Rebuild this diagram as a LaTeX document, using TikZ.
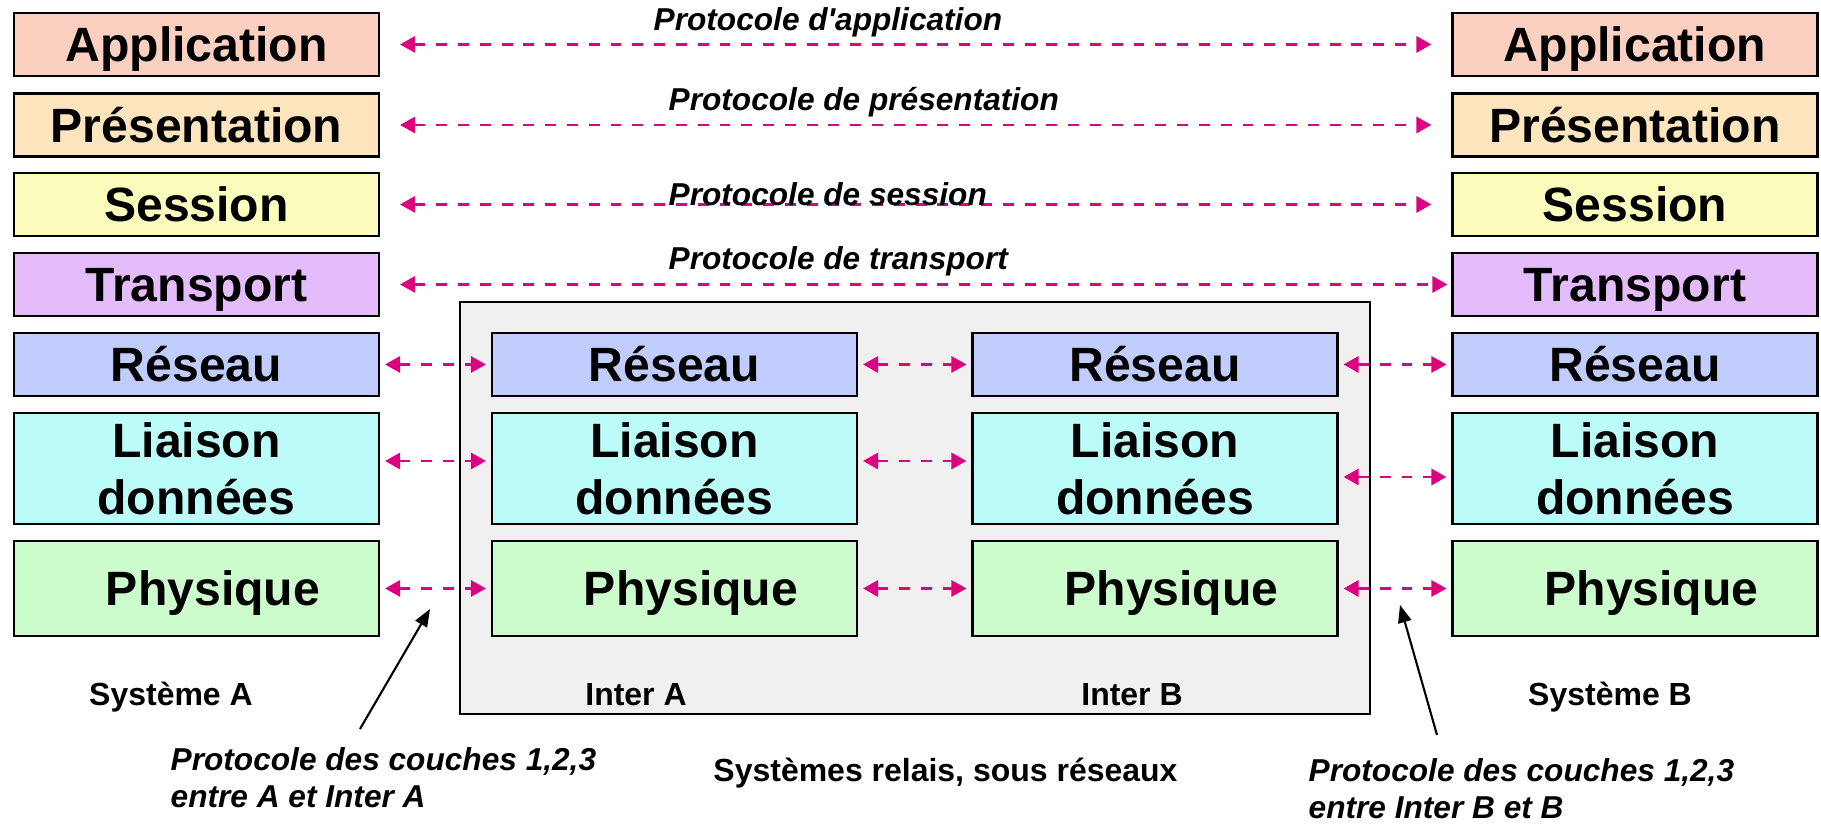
\documentclass[tikz,border=0pt]{standalone}
\usepackage{fontspec}
\setmainfont{Liberation Sans}[Ligatures=TeXOff]
\usepackage{tikz}
\usetikzlibrary{arrows.meta}
\definecolor{appli}{HTML}{FCD0C0}
\definecolor{presen}{HTML}{FCE4BC}
\definecolor{sessn}{HTML}{FCFCBC}
\definecolor{transp}{HTML}{E4BCFC}
\definecolor{reseau}{HTML}{C0CCFC}
\definecolor{liaisn}{HTML}{BCFCF8}
\definecolor{physq}{HTML}{CCFCCC}
\definecolor{relay}{HTML}{F0F0F0}
\definecolor{proto}{HTML}{DD0080}
\tikzset{
  layer/.style={draw=black, line width=0.6pt, minimum width=3.65cm,
    inner sep=0pt, align=center,
    font=\fontsize{13.7}{16.2}\selectfont\bfseries},
  onerow/.style={layer, minimum height=0.63cm, text height=9.8pt, text depth=0pt},
  proto/.style={draw=proto, line width=0.8pt, dash pattern=on 3.1pt off 3.1pt,
    {Triangle[length=4.3pt,width=4.6pt]}-{Triangle[length=4.3pt,width=4.6pt]}},
  ptr/.style={draw=black, line width=0.6pt, -{Triangle[length=5pt,width=3.8pt]}},
  note/.style={font=\fontsize{9}{10.5}\selectfont\bfseries\itshape, align=left, inner sep=0pt},
  tag/.style={font=\fontsize{9.1}{10}\selectfont\bfseries}
}
\begin{document}
\begin{tikzpicture}
  \useasboundingbox (0,0) rectangle (18.21,8.24);

  % relay systems
  \node[draw=black, line width=0.6pt, fill=relay, minimum width=9.1cm,
    minimum height=4.12cm] (relais) at (9.15,3.16) {};

  % upper layers, end systems only
  \foreach \c/\x in {A/1.965, B/16.35}{
    \node[onerow, fill=appli] (app\c) at (\x,7.795) {Application};
    \node[onerow, fill=presen] (pres\c) at (\x,6.99) {Présentation};
    \node[onerow, fill=sessn] (sess\c) at (\x,6.195) {Session};
    \node[onerow, fill=transp] (tran\c) at (\x,5.395) {Transport};
  }

  % layers 1,2,3 in every system
  \foreach \c/\x in {A/1.965, IA/6.745, IB/11.55, B/16.35}{
    \node[onerow, fill=reseau] (res\c) at (\x,4.595) {Réseau};
    \node[layer, fill=liaisn, minimum height=1.11cm] (lia\c) at (\x,3.555) {Liaison\\données};
    \node[onerow, fill=physq, minimum height=0.95cm] (phy\c) at (\x,2.355) {\hspace*{9.4pt}Physique};
  }

  % peer protocols
  \foreach \n in {app,pres,sess}{
    \draw[proto, shorten <=0.2cm, shorten >=0.2cm] (\n A.east) -- (\n B.west);
  }
  \draw[proto, shorten <=0.2cm, shorten >=0.04cm] (tranA.east) -- (tranB.west);
  \foreach \p/\q in {A/IA, IA/IB, IB/B}{
    \draw[proto, shorten <=0.05cm, shorten >=0.05cm] (res\p.east) -- (res\q.west);
    \draw[proto, shorten <=0.05cm, shorten >=0.05cm] (phy\p.east) -- (phy\q.west);
  }
  \draw[proto, shorten <=0.05cm, shorten >=0.05cm] ([yshift=0.75mm]liaA.east) -- ([yshift=0.75mm]liaIA.west);
  \draw[proto, shorten <=0.05cm, shorten >=0.05cm] ([yshift=0.75mm]liaIA.east) -- ([yshift=0.75mm]liaIB.west);
  \draw[proto, shorten <=0.05cm, shorten >=0.05cm] ([yshift=-0.85mm]liaIB.east) -- ([yshift=-0.85mm]liaB.west);

  \node[note, anchor=base west] (papp) at (6.53,7.93) {Protocole d'application};
  \node[note, anchor=base west] (ppres) at (6.68,7.133) {Protocole de présentation};
  \node[note, anchor=base west] (psess) at (6.68,6.18) {Protocole de session};
  \node[note, anchor=base west] (ptran) at (6.68,5.54) {Protocole de transport};

  % system names
  \node[tag, anchor=base] (sysA) at (1.71,1.18) {Système A};
  \node[tag, anchor=base] (intA) at (6.36,1.18) {Inter A};
  \node[tag, anchor=base] (intB) at (11.32,1.18) {Inter B};
  \node[tag, anchor=base] (sysB) at (16.10,1.18) {Système B};
  \node[tag, anchor=base] (relnote) at (9.455,0.42) {Systèmes relais, sous réseaux};

  % notes on layers 1,2,3
  \node[note, anchor=west] (noteA) at (1.70,0.46) {Protocole des couches 1,2,3\\entre A et Inter A};
  \node[note, anchor=west] (noteB) at (13.08,0.35) {Protocole des couches 1,2,3\\entre Inter B et B};
  \coordinate (tailA) at (3.60,0.95);
  \coordinate (tipA) at (4.30,2.15);
  \coordinate (tailB) at (14.37,0.89);
  \coordinate (tipB) at (14.00,2.19);
  \draw[ptr] (tailA) -- (tipA);
  \draw[ptr] (tailB) -- (tipB);
\end{tikzpicture}
\end{document}
